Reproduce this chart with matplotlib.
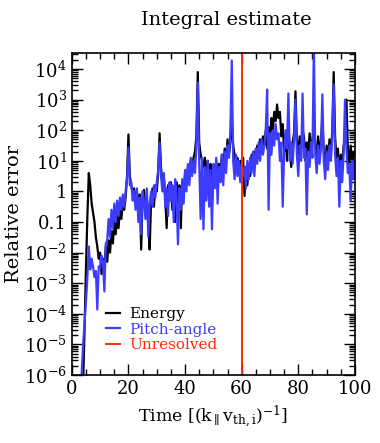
import numpy as np
import matplotlib
matplotlib.use('Agg')
import matplotlib.pyplot as plt
from matplotlib.ticker import MultipleLocator, LogLocator, NullFormatter

plt.rcParams['font.family'] = ['DejaVu Serif']
plt.rcParams['mathtext.fontset'] = 'dejavuserif'

# %%
# data: log10 of relative error, sampled every 0.5 from t = 3
t_start = 3.0
t_step = 0.5
energy_log = [
    -8, -8, -6.3, -4.5, -2.5, -0.8, 0.6, 0.2, -0.4, -0.7,          # 3.0 - 7.5
    -1.0, -1.5, -1.8, -2.2, -2.0, -2.7, -2.2, -2.5, -1.8, -2.3,    # 8.0 - 12.5
    -1.6, -2.0, -1.3, -1.7, -1.0, -1.4, -0.8, -1.2, -0.6, -0.9,    # 13.0 - 17.5
    -0.4, -0.6, -0.2, 0.5, 1.86, 0.5, 0.2, -0.1, 0.1, -0.4,        # 18.0 - 22.5
    0.0, -0.8, -0.1, -1.9, -0.2, 0.05, -0.6, -0.2, -1.1, -1.9,     # 23.0 - 27.5
    -0.3, 0.1, -0.5, 0.2, 0.0, 0.6, 1.9, 0.8, 0.3, 0.5,            # 28.0 - 32.5
    -0.2, -1.2, 0.2, -0.3, 0.3, -0.6, 0.1, -1.0, 0.3, -0.4,        # 33.0 - 37.5
    0.2, -1.2, 0.3, -0.2, 0.6, 0.3, 0.8, 0.4, 1.0, 0.7,            # 38.0 - 42.5
    1.1, 1.3, 1.8, 3.9, 1.6, 1.2, 1.0, 0.8, 1.1, 0.5,              # 43.0 - 47.5
    1.0, 0.3, 0.9, -0.5, 0.8, 0.4, 1.0, 0.2, 0.9, 0.6,             # 48.0 - 52.5
    1.2, 0.7, 1.4, 1.0, 1.7, 1.2, 1.6, 2.4, 1.5, 1.2,              # 53.0 - 57.5
    0.9, 1.1, 0.6, 1.0, 0.5, 1.1, -0.15, 0.8, 0.2, 0.9,            # 58.0 - 62.5
    0.5, 1.2, 0.8, 1.3, 1.0, 1.5, 1.1, 1.7, 1.3, 1.8,              # 63.0 - 67.5
    1.5, 2.0, 1.4, 2.1, 1.6, 2.4, 2.0, 2.6, 2.3, 2.84,             # 68.0 - 72.5
    2.4, 2.6, 1.8, 2.2, 1.3, 1.8, 1.0, 2.0, 1.5, 0.8,              # 73.0 - 77.5
    1.6, 1.9, 3.27, 1.7, 1.2, 1.8, 1.4, 2.0, 1.8, 1.0,             # 78.0 - 82.5
    1.6, 1.3, 1.9, 1.2, 1.7, 2.2, 1.5, 1.1, 1.8, 1.3,              # 83.0 - 87.5
    1.6, 2.4, 1.3, 0.8, 1.5, 1.0, 1.7, 1.2, 2.0, 3.9,              # 88.0 - 92.5
    1.8, 1.0, 1.4, 0.6, 1.2, 0.8, 1.5, 1.6, 3.0, 1.4,              # 93.0 - 97.5
    0.9, 1.5, 1.0, 1.3, 0.8,                                       # 98.0 - 100.0
]
pitch_log = [
    -8, -5.9, -5.0, -4.3, -3.6, -2.8, -1.8, -2.55, -2.2, -2.45,    # 3.0 - 7.5
    -2.8, -2.6, -3.86, -2.45, -2.5, -2.1, -2.3, -3.27, -1.7, -1.6, # 8.0 - 12.5
    -0.9, -1.5, -0.6, -1.2, -0.4, -1.0, -0.3, -0.8, -0.2, -0.6,    # 13.0 - 17.5
    -0.1, -0.5, 0.0, 0.4, 1.44, 0.2, 0.3, -0.3, 0.0, -0.6,         # 18.0 - 22.5
    0.1, -1.0, -0.2, -1.4, 0.0, -0.3, -0.9, 0.1, -1.47, -0.4,      # 23.0 - 27.5
    0.0, -0.5, 0.2, -0.2, 0.3, 0.7, 1.6, 0.5, 0.0, 0.6,            # 28.0 - 32.5
    -0.5, 0.1, -0.8, 0.3, -0.3, 0.2, -1.0, 0.4, -0.2, -1.73,       # 33.0 - 37.5
    0.1, -0.6, 0.4, -0.4, 0.7, 0.0, 0.9, 0.2, 1.1, 0.5,            # 38.0 - 42.5
    1.0, 0.6, 1.5, 3.56, 0.9, -0.9, 1.1, -1.24, 0.8, -0.3,         # 43.0 - 47.5
    1.0, -0.5, 0.7, -1.24, 0.9, 0.1, 1.1, -0.4, 0.8, 0.3,          # 48.0 - 52.5
    1.2, 0.2, 1.3, 0.6, 1.5, 1.1, 2.0, 4.28, 1.0, 0.4,             # 53.0 - 57.5
    1.2, 0.5, 1.0, 0.3, 0.9, 0.5, 0.8, 0.1, 1.0, 0.4,              # 58.0 - 62.5
    1.1, 0.6, 1.3, 0.5, 1.4, 0.9, 1.6, 1.0, 1.7, 1.2,              # 63.0 - 67.5
    1.5, 2.0, 3.33, -0.6, 1.9, 1.2, 2.0, 1.5, 2.2, 1.7,            # 68.0 - 72.5
    1.9, 1.0, 1.6, -0.5, 1.3, 2.0, 1.4, 3.2, 1.0, 1.6,             # 73.0 - 77.5
    0.9, 1.7, 3.0, 1.2, 0.5, 1.5, 1.0, 3.2, 1.1, 1.4,              # 78.0 - 82.5
    -0.75, 1.3, 0.8, 1.6, 1.1, 4.8, 1.2, 0.6, 1.5, 0.9,            # 83.0 - 87.5
    1.4, 3.17, 1.0, 0.4, 1.3, 0.7, 1.5, 1.0, 1.8, 3.5,             # 88.0 - 92.5
    1.2, 0.5, 1.1, -0.5, 1.0, 0.3, 1.2, 3.0, 1.4, 0.6,             # 93.0 - 97.5
    0.9, -0.3, 1.0, 0.4, 1.1,                                      # 98.0 - 100.0
]
t_unresolved = 60

ytick_vals = [1e-6, 1e-5, 1e-4, 1e-3, 1e-2, 0.1, 1, 10, 100, 1e3, 1e4]
ytick_labels = [r'$10^{-6}$', r'$10^{-5}$', r'$10^{-4}$', r'$10^{-3}$', r'$10^{-2}$',
                '0.1', '1', r'$10^{1}$', r'$10^{2}$', r'$10^{3}$', r'$10^{4}$']

# %%
t_energy = t_start + t_step * np.arange(len(energy_log))
t_pitch = t_start + t_step * np.arange(len(pitch_log))

fig = plt.figure(figsize=(3.8, 4.43), dpi=100)
ax = fig.add_axes([0.189, 0.1535, 0.745, 0.7265])

ax.plot(t_energy, 10**np.array(energy_log), color='black', lw=1.6, label='Energy')
ax.plot(t_pitch, 10**np.array(pitch_log), color='#3c3cff', lw=1.6, label='Pitch-angle')
ax.axvline(t_unresolved, color='#ff2a00', lw=1.4, label='Unresolved')

ax.set_yscale('log')
ax.set_xlim(0, 100)
ax.set_ylim(1e-6, 3.3e4)
ax.set_yticks(ytick_vals, labels=ytick_labels)
ax.yaxis.set_minor_locator(LogLocator(base=10, subs=np.arange(2, 10), numticks=20))
ax.yaxis.set_minor_formatter(NullFormatter())
ax.xaxis.set_major_locator(MultipleLocator(20))
ax.xaxis.set_minor_locator(MultipleLocator(5))

ax.tick_params(which='both', direction='in', top=True, right=True, labelsize=13, width=1.0)
ax.tick_params(which='major', length=8)
ax.tick_params(which='minor', length=4)
for s in ax.spines.values():
    s.set_linewidth(1.2)

ax.set_ylabel('Relative error', fontsize=14, labelpad=1)
ax.set_xlabel(r'Time [(k$_\parallel$v$_{\rm th,i}$)$^{-1}$]', fontsize=12.5)

leg = ax.legend(loc='upper left', bbox_to_anchor=(0.1, 0.23), frameon=False,
                fontsize=11, handlelength=0.9, handletextpad=0.6, labelspacing=0.1,
                borderaxespad=0, labelcolor='linecolor')

fig.text(0.595, 0.955, 'Integral estimate', ha='center', va='center', fontsize=14)

plt.savefig('out.png', dpi=100)
plt.close()
